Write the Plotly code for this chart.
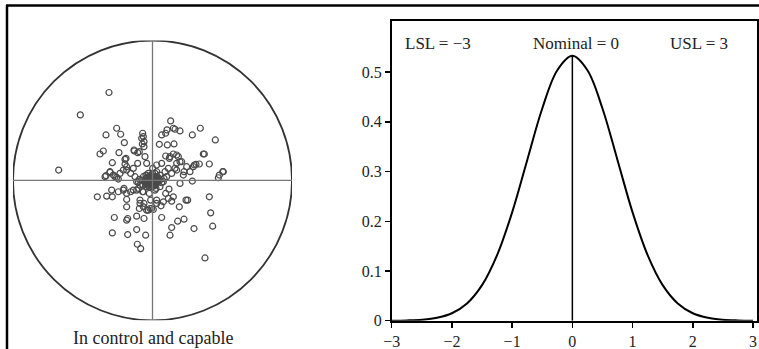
import numpy as np
import plotly.graph_objects as go

# ---- Data: scatter readings (target-plot positions, read in image units around centre) ----
raw_px = [327, 241, 176, 615, 512, 601, 646, 577, 318, 350, 362, 373, 300, 310, 357, 337,
          428, 430, 432, 432, 485, 497, 520, 540, 502, 522, 478, 403, 413, 610, 628, 588,
          598, 580, 670, 658, 655, 577, 318, 330, 345, 355, 292, 320, 335, 337, 355, 380,
          380, 372, 392, 410, 343, 380, 383, 410, 432, 410, 383, 337, 437, 412, 422, 485,
          515, 510, 533, 552, 582, 638, 632, 628, 558, 563, 538, 515, 483, 460, 470, 497,
          507, 540, 552, 545, 535, 508, 520, 497, 485, 470, 470, 458, 440, 435, 413, 400,
          392, 380, 375, 375, 405, 415, 420, 428, 420, 432, 418, 445, 455, 452, 448, 465,
          480, 490, 500, 515, 525, 530, 505, 495, 480, 470,
          450, 455, 460, 445, 462, 440, 450, 465, 458, 470, 435, 445, 475, 455, 440, 468,
          430, 425, 480, 452, 448, 462, 457, 442, 470, 438, 465, 447, 453, 443, 459, 436,
          472, 461, 449, 428, 485, 492, 418, 410,
          425, 427, 525, 501, 530, 560, 570, 550, 530, 510, 540, 315, 330, 340, 350, 360,
          370, 380, 370, 380, 400, 415, 430, 420, 430, 440, 450, 470, 490, 505, 520, 378,
          402, 418, 583, 613, 668,
          446, 454, 463, 441, 467, 451, 459, 444, 456, 471, 437, 449, 462, 453, 466, 448,
          457, 439, 474, 460]
raw_py = [278, 345, 510, 773, 363, 385, 420, 405, 405, 385, 403, 428, 462, 453, 458, 488,
          400, 410, 425, 440, 405, 400, 385, 393, 435, 432, 433, 453, 458, 462, 492, 493,
          492, 500, 515, 525, 533, 543, 527, 517, 530, 537, 590, 588, 570, 590, 575, 620,
          598, 565, 575, 570, 652, 660, 655, 648, 655, 688, 703, 698, 705, 732, 745, 652,
          682, 705, 663, 657, 685, 678, 638, 590, 600, 600, 620, 603, 617, 628, 600, 580,
          567, 550, 515, 485, 470, 475, 462, 468, 490, 495, 515, 505, 490, 470, 490, 505,
          520, 510, 492, 478, 530, 545, 555, 575, 600, 610, 625, 630, 625, 600, 580, 570,
          560, 545, 530, 520, 505, 490, 505, 515, 525, 540,
          530, 540, 545, 545, 530, 535, 555, 555, 520, 530, 545, 520, 545, 560, 560, 565,
          530, 540, 540, 548, 538, 540, 552, 550, 550, 525, 520, 533, 536, 542, 547, 552,
          535, 558, 528, 555, 548, 535, 538, 545,
          415, 432, 388, 390, 465, 500, 515, 525, 510, 470, 485, 530, 515, 525, 532, 520,
          510, 500, 570, 580, 570, 565, 575, 610, 620, 630, 625, 610, 605, 595, 590, 475,
          450, 455, 495, 462, 515,
          543, 537, 549, 531, 542, 527, 534, 556, 546, 537, 539, 544, 551, 529, 546, 561,
          533, 548, 532, 540]
centre_px, centre_py, radius_px = 457.5, 541.0, 418.5
scatter_x = (np.array(raw_px) - centre_px) / radius_px * 10
scatter_y = (centre_py - np.array(raw_py)) / radius_px * 10
target_radius = 10

# ---- Data: process distribution curve ----
curve_x = [-3.0, -2.75, -2.5, -2.25, -2.0, -1.75, -1.5, -1.25, -1.0, -0.75, -0.5, -0.25, 0.0,
           0.25, 0.5, 0.75, 1.0, 1.25, 1.5, 1.75, 2.0, 2.25, 2.5, 2.75, 3.0]
curve_y = [0.0001, 0.0006, 0.002, 0.0058, 0.015, 0.0347, 0.0715, 0.132, 0.218, 0.323, 0.427, 0.504, 0.533,
           0.504, 0.427, 0.323, 0.218, 0.132, 0.0715, 0.0347, 0.015, 0.0058, 0.002, 0.0006, 0.0001]
nominal = 0
peak = 0.533
x_ticks = [-3, -2, -1, 0, 1, 2, 3]
y_ticks = [0, 0.1, 0.2, 0.3, 0.4, 0.5]
spec_labels = ["LSL = \u22123", "Nominal = 0", "USL = 3"]
spec_label_px = [437.5, 575.5, 699]

W, H = 759, 349
FONT = "Liberation Serif"
TXT = "#222222"

def px(x):
    return x / W

def py(y):
    return (H - y) / H

fig = go.Figure()

fig.add_trace(go.Scatter(
    x=scatter_x, y=scatter_y, mode="markers",
    marker=dict(symbol="circle-open", size=6, color="#4a4a4a", line=dict(width=1.2)),
    xaxis="x", yaxis="y", showlegend=False, hoverinfo="skip"))

fig.add_trace(go.Scatter(
    x=curve_x, y=curve_y, mode="lines", line=dict(color="black", width=2, shape="spline"),
    xaxis="x2", yaxis="y2", showlegend=False))

fig.add_trace(go.Scatter(
    x=[nominal, nominal], y=[0, peak], mode="lines", line=dict(color="black", width=1.5),
    xaxis="x2", yaxis="y2", showlegend=False))

shapes = []
shapes.append(dict(type="circle", xref="x", yref="y", x0=-target_radius, x1=target_radius,
                   y0=-target_radius, y1=target_radius, line=dict(color="#333333", width=1.8)))
shapes.append(dict(type="line", xref="x", yref="y", x0=0, x1=0, y0=-target_radius, y1=target_radius,
                   line=dict(color="#777777", width=1.3)))
shapes.append(dict(type="line", xref="x", yref="y", x0=-target_radius, x1=target_radius, y0=0, y1=0,
                   line=dict(color="#777777", width=1.3)))
shapes.append(dict(type="line", xref="paper", yref="paper", x0=px(6), x1=px(759), y0=py(5.5), y1=py(5.5),
                   line=dict(color="black", width=2.5)))
shapes.append(dict(type="line", xref="paper", yref="paper", x0=px(7), x1=px(7), y0=py(5), y1=py(349),
                   line=dict(color="black", width=2.5)))

annotations = [dict(text="In control and capable", xref="paper", yref="paper", x=px(153), y=py(338),
                    showarrow=False, font=dict(family=FONT, size=18, color=TXT),
                    xanchor="center", yanchor="middle")]
for lab, lx in zip(spec_labels, spec_label_px):
    annotations.append(dict(text=lab, xref="paper", yref="paper", x=px(lx), y=py(44), showarrow=False,
                            font=dict(family=FONT, size=17, color=TXT), xanchor="center", yanchor="middle"))

fig.update_layout(
    width=W, height=H, autosize=False, margin=dict(l=0, r=0, t=0, b=0, pad=0, autoexpand=False),
    paper_bgcolor="white", plot_bgcolor="white",
    font=dict(family=FONT, size=16, color=TXT),
    shapes=shapes, annotations=annotations,
    xaxis=dict(domain=[px(13), px(292)], range=[-10, 10], visible=False, fixedrange=True, automargin=False),
    yaxis=dict(domain=[py(320.3), py(40.5)], range=[-10, 10], visible=False, fixedrange=True, automargin=False),
    xaxis2=dict(domain=[px(391.7), px(757)], range=[-3, 3.066], anchor="y2", automargin=False,
                tickvals=x_ticks, ticks="outside", ticklen=5, tickwidth=1.5, tickcolor="black",
                showline=True, linecolor="black", linewidth=1.8, mirror=True, fixedrange=True,
                showgrid=False, zeroline=False, tickfont=dict(family=FONT, size=16, color=TXT)),
    yaxis2=dict(domain=[py(320.7), py(21)], range=[0, 0.603], anchor="x2", automargin=False,
                tickvals=y_ticks, ticktext=["0", "0.1", "0.2", "0.3", "0.4", "0.5"],
                ticks="outside", ticklen=5, tickwidth=1.5, tickcolor="black",
                showline=True, linecolor="black", linewidth=1.8, mirror=True, fixedrange=True,
                showgrid=False, zeroline=False, tickfont=dict(family=FONT, size=16, color=TXT)),
)

fig.write_html("out.html",
               config={"displayModeBar": False, "responsive": False, "staticPlot": True},
               post_script="document.body.style.margin='0';document.body.style.overflow='hidden';")
